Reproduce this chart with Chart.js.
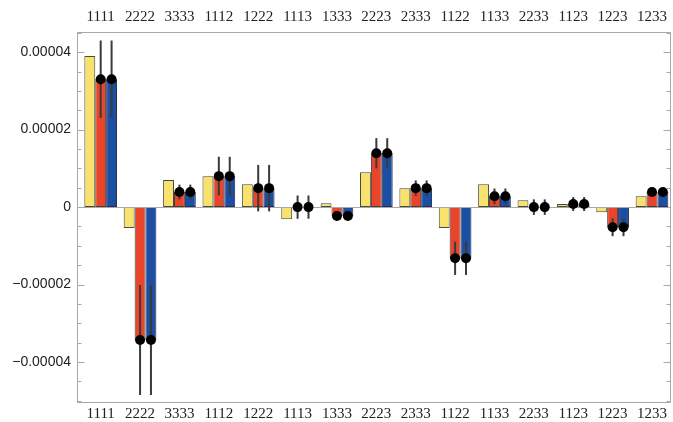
<!DOCTYPE html>
<html>
<head>
<meta charset="utf-8">
<script src="https://cdn.jsdelivr.net/npm/chart.js@4/dist/chart.umd.min.js"></script>
<style>
  html, body { margin: 0; padding: 0; background: #fff; }
  #wrap { width: 673px; height: 422px; }
</style>
</head>
<body>
<div id="wrap"><canvas id="myChart"></canvas></div>
<script>
const categories = ["1111", "2222", "3333", "1112", "1222", "1113", "1333", "2223", "2333", "1122", "1133", "2233", "1123", "1223", "1233"];

const yellowValues = [0.000039, -0.0000054, 0.000007, 0.000008, 0.0000059, -0.0000031, 0.000001, 0.000009, 0.0000049, -0.0000054, 0.0000059, 0.0000018, 0.0000008, -0.0000013, 0.0000028];
const redValues = [0.000033, -0.0000343, 0.0000039, 0.000008, 0.0000049, 0, -0.0000023, 0.0000139, 0.0000049, -0.0000132, 0.0000028, 0, 0.0000008, -0.0000052, 0.0000039];
const blueValues = [0.000033, -0.0000343, 0.0000039, 0.000008, 0.0000049, 0, -0.0000023, 0.0000139, 0.0000049, -0.0000132, 0.0000028, 0, 0.0000008, -0.0000052, 0.0000039];
// +/- error on the red and blue series
const errValues = [0.00001, 0.0000142, 0.0000019, 0.000005, 0.000006, 0.000003, 0.0000006, 0.0000039, 0.000002, 0.0000043, 0.000002, 0.000002, 0.0000018, 0.0000023, 0.0000006];

const yTicks = [-0.00004, -0.00002, 0, 0.00002, 0.00004];
const yTickLabels = ["\u22120.00004", "\u22120.00002", "0", "0.00002", "0.00004"];
const yMinorStep = 0.000005;

const frameColor = "#a8a8a8";
const axisGap = 4; // frame sits a little left of the first category

// draws error bars, dots, inward ticks and frame
const extras = {
    id: "extras",
    afterDatasetsDraw(chart) {
        const ctx = chart.ctx;
        const y = chart.scales.y;
        const area = chart.chartArea;
        const left = Math.round(area.left - axisGap) + 0.5;
        const right = Math.round(area.right) - 1.5;
        ctx.save();

        // zero line
        ctx.strokeStyle = frameColor;
        ctx.lineWidth = 1;
        const zy = Math.round(y.getPixelForValue(0)) + 0.5;
        ctx.beginPath();
        ctx.moveTo(left, zy);
        ctx.lineTo(right, zy);
        ctx.stroke();

        [1, 2].forEach(function (di) {
            const meta = chart.getDatasetMeta(di);
            const vals = chart.data.datasets[di].data;
            meta.data.forEach(function (bar, i) {
                const x = bar.x;
                const v = vals[i];
                const e = errValues[i];
                ctx.strokeStyle = "#3a3a3a";
                ctx.lineWidth = 2;
                ctx.beginPath();
                ctx.moveTo(x, y.getPixelForValue(v + e));
                ctx.lineTo(x, y.getPixelForValue(v - e));
                ctx.stroke();
                ctx.fillStyle = "#000";
                ctx.beginPath();
                ctx.arc(x, y.getPixelForValue(v), 5, 0, Math.PI * 2);
                ctx.fill();
            });
        });

        // frame
        ctx.strokeStyle = frameColor;
        ctx.lineWidth = 1;
        const top = Math.round(area.top) + 0.5;
        const bottom = Math.round(area.bottom) + 0.5;
        ctx.beginPath();
        ctx.moveTo(left, top);
        ctx.lineTo(right, top);
        ctx.lineTo(right, bottom);
        ctx.lineTo(left, bottom);
        ctx.closePath();
        ctx.stroke();

        // inward ticks, left and right
        for (let k = -10; k <= 9; k++) {
            const val = k * yMinorStep;
            if (val < y.min || val > y.max) continue;
            const py = Math.round(y.getPixelForValue(val)) + 0.5;
            const major = yTicks.some(t => Math.abs(t - val) < 1e-9);
            const len = major ? 7 : 4;
            ctx.beginPath();
            ctx.moveTo(left, py);
            ctx.lineTo(left + len, py);
            ctx.moveTo(right, py);
            ctx.lineTo(right - len, py);
            ctx.stroke();
        }
        ctx.restore();
    }
};

const myChart = new Chart("myChart", {
    type: "bar",
    data: {
        labels: categories,
        datasets: [
            {
                label: "A",
                data: yellowValues,
                backgroundColor: "#f8e16c",
                borderColor: "#4a4a3a",
                borderWidth: 1,
                borderSkipped: false
            },
            {
                label: "B",
                data: redValues,
                backgroundColor: "#e8452a",
                borderColor: "#4a3a3a",
                borderWidth: 1,
                borderSkipped: false
            },
            {
                label: "C",
                data: blueValues,
                backgroundColor: "#1b4fa3",
                borderColor: "#2a2a4a",
                borderWidth: 1,
                borderSkipped: false
            }
        ]
    },
    options: {
        responsive: true,
        maintainAspectRatio: false,
        animation: false,
        datasets: {
            bar: {
                categoryPercentage: 0.83,
                barPercentage: 1.0
            }
        },
        layout: {
            padding: { left: 0, right: 0, top: 0, bottom: 0 }
        },
        plugins: {
            legend: { display: false },
            tooltip: { enabled: false }
        },
        scales: {
            x: {
                position: "bottom",
                grid: { display: false, drawTicks: false },
                border: { display: false },
                ticks: {
                    color: "#222",
                    padding: 3,
                    maxRotation: 0,
                    autoSkip: false,
                    font: { family: "Liberation Serif", size: 15 }
                },
                afterFit(scale) { scale.height = 20; }
            },
            x2: {
                type: "category",
                position: "top",
                labels: categories,
                grid: { display: false, drawTicks: false },
                border: { display: false },
                ticks: {
                    color: "#222",
                    padding: 6,
                    maxRotation: 0,
                    autoSkip: false,
                    font: { family: "Liberation Serif", size: 15 }
                },
                afterFit(scale) { scale.height = 32; }
            },
            y: {
                min: -0.0000503,
                max: 0.0000452,
                grid: { display: false, drawTicks: false },
                border: { display: false },
                afterBuildTicks(scale) {
                    scale.ticks = yTicks.map(v => ({ value: v }));
                },
                ticks: {
                    color: "#222",
                    padding: 10,
                    font: { family: "Liberation Sans", size: 14 },
                    callback(value) {
                        const i = yTicks.findIndex(t => Math.abs(t - value) < 1e-9);
                        return i >= 0 ? yTickLabels[i] : "";
                    }
                },
                afterFit(scale) { scale.width = 81; }
            }
        }
    },
    plugins: [extras]
});
</script>
</body>
</html>
